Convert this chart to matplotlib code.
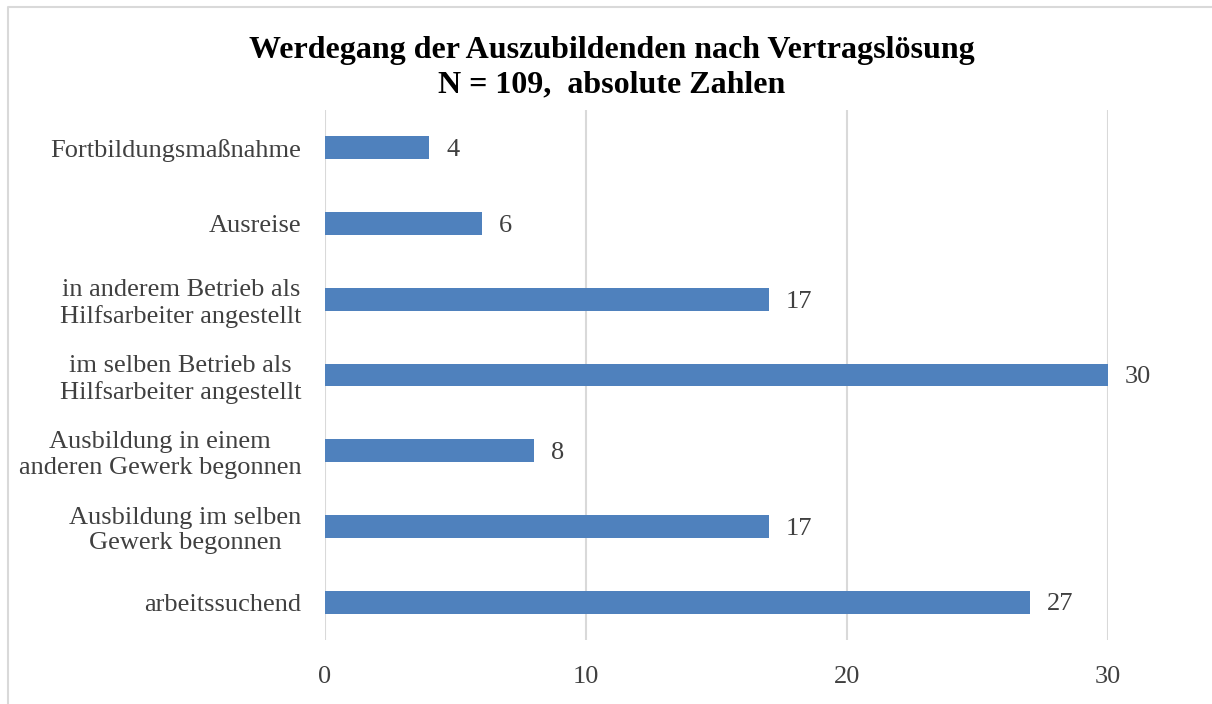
import matplotlib.pyplot as plt
from matplotlib.lines import Line2D

plt.rcParams["font.family"] = ["Liberation Serif", "DejaVu Serif"]

TITLE = "Werdegang der Auszubildenden nach Vertragslösung\nN = 109,  absolute Zahlen"
CATEGORIES = [
    "arbeitssuchend",
    "Ausbildung im selben\nGewerk begonnen",
    "Ausbildung in einem\nanderen Gewerk begonnen",
    "im selben Betrieb als\nHilfsarbeiter angestellt",
    "in anderem Betrieb als\nHilfsarbeiter angestellt",
    "Ausreise",
    "Fortbildungsmaßnahme",
]
VALUES = [27, 17, 8, 30, 17, 6, 4]
XTICKS = [0, 10, 20, 30]

BAR_BLUE = "#4f81bd"
GRID_GREY = "#d9d9d9"
TEXT_GREY = "#404040"

fig = plt.figure(figsize=(12.12, 7.04), dpi=100)
# chart frame: only the left and top edges are inside the picture
fig.lines.append(Line2D([0.0066, 0.0066, 1.0], [0.0, 0.9905, 0.9905],
                        transform=fig.transFigure, color=GRID_GREY, linewidth=1.5))
ax = fig.add_axes([0.2682, 0.0909, 0.6461, 0.7529])

y = range(len(CATEGORIES))
ax.barh(y, VALUES, height=0.3, color=BAR_BLUE, zorder=3)
for yi, v in zip(y, VALUES):
    ax.text(v + 0.65, yi - 0.03, str(v), va="center", ha="left", fontsize=19, color=TEXT_GREY)

ax.set_xlim(0, 30)
ax.set_ylim(-0.5, len(CATEGORIES) - 0.5)
ax.set_xticks(XTICKS)
ax.set_yticks(list(y))
ax.set_yticklabels(CATEGORIES, fontsize=19, color=TEXT_GREY, multialignment="center")
ax.tick_params(axis="x", labelsize=19, labelcolor=TEXT_GREY, length=0, pad=19)
ax.tick_params(axis="y", length=0, pad=17)
ax.grid(True, axis="x", color=GRID_GREY, linewidth=1.5, zorder=0)
for s in ax.spines.values():
    s.set_visible(False)

fig.text(0.505, 0.904, TITLE, ha="center", va="center", fontsize=23,
         fontweight="bold", color="black", linespacing=1.22)

fig.savefig("out.png", dpi=100)
